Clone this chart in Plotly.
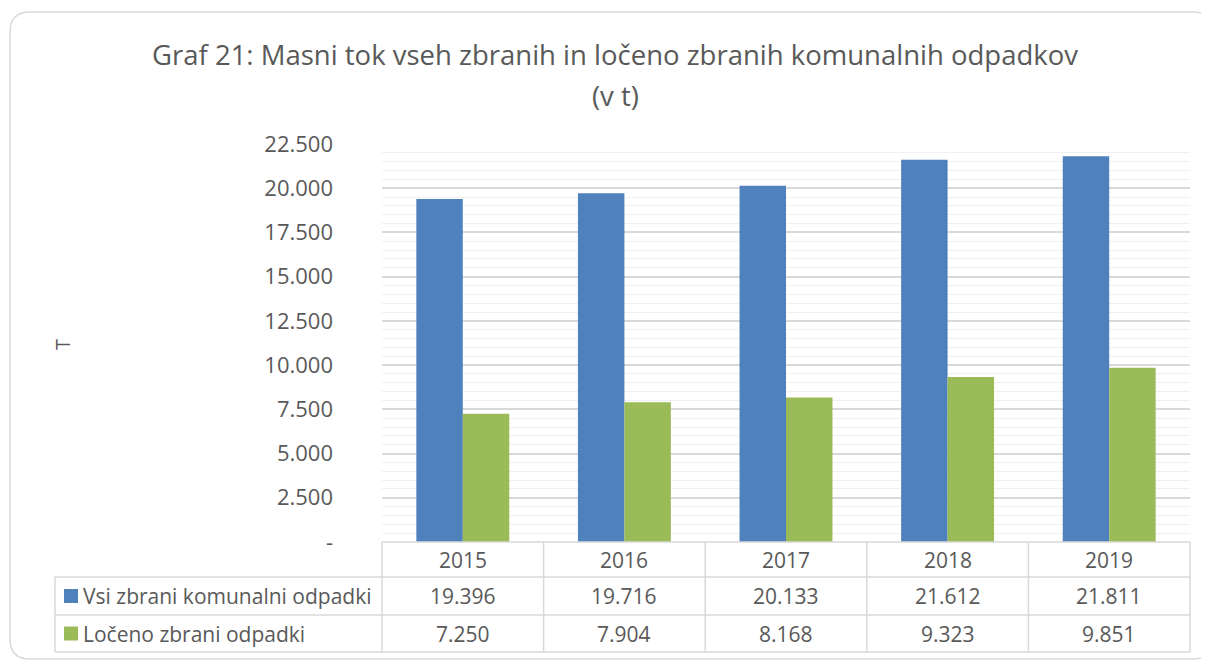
import plotly.graph_objects as go

years = ["2015", "2016", "2017", "2018", "2019"]
series_names = ["Vsi zbrani komunalni odpadki", "Ločeno zbrani odpadki"]
vsi = [19396, 19716, 20133, 21612, 21811]
loceno = [7250, 7904, 8168, 9323, 9851]
colors = ["#4F81BD", "#9BBB59"]
tick_vals = [0, 2500, 5000, 7500, 10000, 12500, 15000, 17500, 20000, 22500]
tick_text = ["-", "2.500", "5.000", "7.500", "10.000", "12.500", "15.000", "17.500", "20.000", "22.500"]
title_line1 = "Graf 21: Masni tok vseh zbranih in ločeno zbranih komunalnih odpadkov"
title_line2 = "(v t)"
y_title = "T"

OFF = 8  # page body margin
W, H = 1216 - OFF, 661 - OFF
# plot area in screen pixels
L, R, T, B = 382, 1190, 144, 542
FONT = "Open Sans"
TXT = "#595959"
GRID = "#d9d9d9"


def px(x):
    return (x - L) / (R - L)


def py(y):
    return (B - y) / (B - T)


def fmt(v):
    return f"{v:,.0f}".replace(",", ".")


fig = go.Figure()
for name, vals, c in zip(series_names, [vsi, loceno], colors):
    fig.add_trace(go.Bar(x=years, y=vals, name=name, marker=dict(color=c, line=dict(width=0))))

shapes = []
ann = []

# rounded frame
x0, y0, x1, y1, r = 10, 12, 1213, 659, 20
path = (f"M {px(x0 + r)} {py(y0)} L {px(x1 - r)} {py(y0)} Q {px(x1)} {py(y0)} {px(x1)} {py(y0 + r)} "
        f"L {px(x1)} {py(y1 - r)} Q {px(x1)} {py(y1)} {px(x1 - r)} {py(y1)} "
        f"L {px(x0 + r)} {py(y1)} Q {px(x0)} {py(y1)} {px(x0)} {py(y1 - r)} "
        f"L {px(x0)} {py(y0 + r)} Q {px(x0)} {py(y0)} {px(x0 + r)} {py(y0)} Z")
shapes.append(dict(type="path", xref="paper", yref="paper", path=path,
                   line=dict(color="#d9d9d9", width=1.5), layer="below"))

# table lines
rows_y = [542, 577, 615, 652]
col_x = [L + i * (R - L) / 5 for i in range(6)]
lw = 1.5
shapes.append(dict(type="line", xref="paper", yref="paper", x0=px(L), x1=px(R), y0=py(542), y1=py(542),
                   line=dict(color=GRID, width=lw)))
for yy in rows_y[1:]:
    shapes.append(dict(type="line", xref="paper", yref="paper", x0=px(55), x1=px(R), y0=py(yy), y1=py(yy),
                       line=dict(color=GRID, width=lw)))
for xx in col_x:
    shapes.append(dict(type="line", xref="paper", yref="paper", x0=px(xx), x1=px(xx), y0=py(542), y1=py(652),
                       line=dict(color=GRID, width=lw)))
shapes.append(dict(type="line", xref="paper", yref="paper", x0=px(55), x1=px(55), y0=py(577), y1=py(652),
                   line=dict(color=GRID, width=lw)))

# header and values
for i, yr in enumerate(years):
    cx = (col_x[i] + col_x[i + 1]) / 2
    ann.append(dict(x=px(cx), y=py(560), xref="paper", yref="paper", text=yr, showarrow=False,
                    font=dict(family=FONT, size=21, color=TXT), xanchor="center", yanchor="middle"))
    for j, vals in enumerate([vsi, loceno]):
        ry = (rows_y[j + 1] + rows_y[j + 2]) / 2
        ann.append(dict(x=px(cx), y=py(ry), xref="paper", yref="paper", text=fmt(vals[i]), showarrow=False,
                        font=dict(family=FONT, size=21, color=TXT), xanchor="center", yanchor="middle"))

for j, (name, c) in enumerate(zip(series_names, colors)):
    ry = (rows_y[j + 1] + rows_y[j + 2]) / 2
    shapes.append(dict(type="rect", xref="paper", yref="paper", x0=px(64), x1=px(78), y0=py(ry - 7), y1=py(ry + 7),
                       fillcolor=c, line=dict(width=0)))
    ann.append(dict(x=px(81), y=py(ry), xref="paper", yref="paper", text=name, showarrow=False,
                    font=dict(family=FONT, size=21, color=TXT), xanchor="left", yanchor="middle"))

# title
ann.append(dict(x=px(615), y=py(55), xref="paper", yref="paper", text=title_line1, showarrow=False,
                font=dict(family=FONT, size=27.5, color=TXT), xanchor="center", yanchor="middle"))
ann.append(dict(x=px(615), y=py(96), xref="paper", yref="paper", text=title_line2, showarrow=False,
                font=dict(family=FONT, size=27.5, color=TXT), xanchor="center", yanchor="middle"))
# y title
ann.append(dict(x=px(62), y=py(345), xref="paper", yref="paper", text=y_title, showarrow=False, textangle=-90,
                font=dict(family=FONT, size=20, color=TXT), xanchor="center", yanchor="middle"))

fig.update_layout(
    width=W, height=H,
    margin=dict(l=L - OFF, r=(W + OFF) - R, t=T - OFF, b=(H + OFF) - B, autoexpand=False),
    paper_bgcolor="white", plot_bgcolor="white",
    barmode="group", bargap=0.425, bargroupgap=0,
    showlegend=False,
    shapes=shapes, annotations=ann,
    font=dict(family=FONT, color=TXT),
)
fig.update_xaxes(showticklabels=False, showgrid=False, zeroline=False, showline=False, ticks="")
fig.update_yaxes(range=[0, 22500], tickmode="array", tickvals=tick_vals, ticktext=tick_text,
                 tickfont=dict(family=FONT, size=22, color=TXT), ticklabelstandoff=48,
                 showgrid=True, gridcolor=GRID, gridwidth=1.5, zeroline=False, showline=False, ticks="",
                 minor=dict(tickmode="linear", tick0=0, dtick=500, showgrid=True, gridcolor="#f0f0f0", gridwidth=1))

fig.write_html("out.html")
